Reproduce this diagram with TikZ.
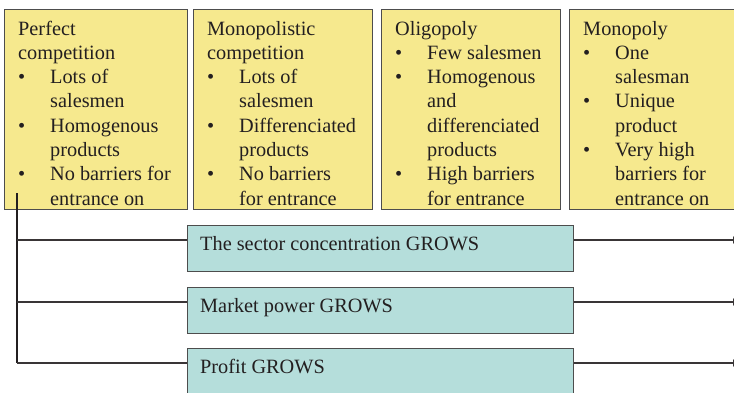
\documentclass[tikz,border=0pt]{standalone}
\usepackage{fontspec}
\setmainfont{Liberation Serif}
\usetikzlibrary{arrows.meta}
\definecolor{marketyellow}{HTML}{F6E98E}
\definecolor{growteal}{HTML}{B5DEDB}
\definecolor{edgegray}{HTML}{4D4D4D}
\definecolor{inkdark}{HTML}{231F20}
\newcommand{\bitem}{\makebox[32pt][l]{\textbullet}}
\newcommand{\bcont}{\hspace*{32pt}}
\tikzset{
  marketbox/.style={draw=edgegray, line width=1.4pt, fill=marketyellow, anchor=north west, inner sep=0pt},
  growbox/.style={draw=edgegray, line width=1.2pt, fill=growteal, anchor=north west, inner sep=0pt},
  boxtext/.style={anchor=base west, inner sep=0pt, text=inkdark,
    font=\fontsize{20.3}{24.3}\selectfont},
  link/.style={draw=inkdark!90, line width=2pt},
  growarrow/.style={link, -{Latex[length=8pt,width=8pt]}},
}
\begin{document}
\begin{tikzpicture}[x=1pt, y=-1pt]
\useasboundingbox (0,0) rectangle (734,392);

% market structure boxes
\node[marketbox, minimum width=183pt, minimum height=200pt] (m1) at (4,9) {};
\node[marketbox, minimum width=179pt, minimum height=200pt] (m2) at (193,9) {};
\node[marketbox, minimum width=179pt, minimum height=200pt] (m3) at (381,9) {};
\node[marketbox, minimum width=180pt, minimum height=200pt] (m4) at (569,9) {};

\node[boxtext] (t1) at (18,35) {\begin{tabular}[t]{@{}l@{}}
Perfect\\ competition\\ \bitem Lots of\\ \bcont salesmen\\ \bitem Homogenous\\ \bcont products\\ \bitem No barriers for\\ \bcont entrance on
\end{tabular}};
\node[boxtext] (t2) at (207,35) {\begin{tabular}[t]{@{}l@{}}
Monopolistic\\ competition\\ \bitem Lots of\\ \bcont salesmen\\ \bitem Differenciated\\ \bcont products\\ \bitem No barriers\\ \bcont for entrance
\end{tabular}};
\node[boxtext] (t3) at (395,35) {\begin{tabular}[t]{@{}l@{}}
Oligopoly\\ \bitem Few salesmen\\ \bitem Homogenous\\ \bcont and\\ \bcont differenciated\\ \bcont products\\ \bitem High barriers\\ \bcont for entrance
\end{tabular}};
\node[boxtext] (t4) at (583,35) {\begin{tabular}[t]{@{}l@{}}
Monopoly\\ \bitem One\\ \bcont salesman\\ \bitem Unique\\ \bcont product\\ \bitem Very high\\ \bcont barriers for\\ \bcont entrance on
\end{tabular}};

% growth boxes
\node[growbox, minimum width=386pt, minimum height=46pt] (g1) at (187,225) {};
\node[growbox, minimum width=386pt, minimum height=46pt] (g2) at (187,287) {};
\node[growbox, minimum width=386pt, minimum height=60pt] (g3) at (187,348) {};
\node[boxtext] (l1) at (200,250) {The sector concentration GROWS};
\node[boxtext] (l2) at (200,312) {Market power GROWS};
\node[boxtext] (l3) at (200,373) {Profit GROWS};

% connectors
\coordinate (spine) at (17,193);
\coordinate (s1) at (17,240);
\coordinate (s2) at (17,302);
\coordinate (s3) at (17,363);
\coordinate (e1) at (741,240);
\coordinate (e2) at (741,302);
\coordinate (e3) at (741,363);
\draw[draw=inkdark, line width=1.3pt] (spine) -- (s3);
\draw[link] (s1) -- (g1.west |- s1);
\draw[link] (s2) -- (g2.west |- s2);
\draw[link] (s3) -- (g3.west |- s3);
\draw[growarrow] (g1.east |- s1) -- (e1);
\draw[growarrow] (g2.east |- s2) -- (e2);
\draw[growarrow] (g3.east |- s3) -- (e3);
\end{tikzpicture}
\end{document}
